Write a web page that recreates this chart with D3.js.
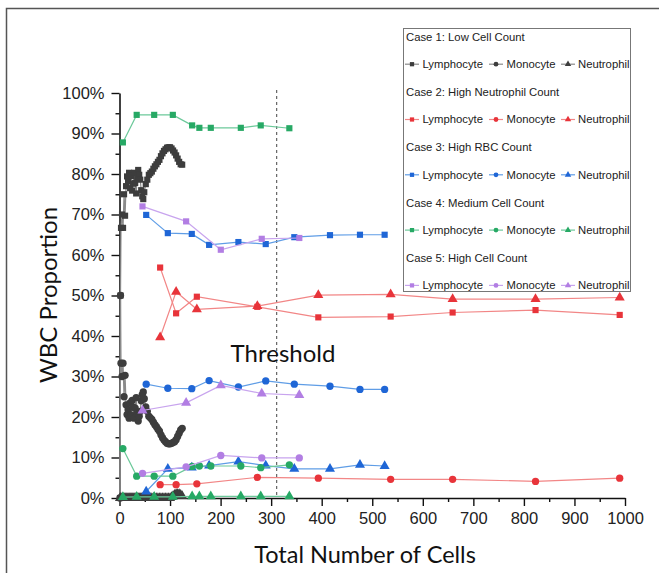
<!DOCTYPE html>
<html><head><meta charset="utf-8">
<script src="https://cdn.jsdelivr.net/npm/d3@7"></script>
<style>body{margin:0;background:#fff}</style>
</head><body><svg id="c" width="659" height="573"></svg>
<script>
// ---------------- data ----------------
const xTicks = [0,100,200,300,400,500,600,700,800,900,1000];
const yTicks = [0,10,20,30,40,50,60,70,80,90,100];
const thresholdX = 311;

const case1X   = [1,2,3,5,7,9,11,13,15,17,19,21,23,25,27,29,31,33,35,37,39,41,43,45,47,49,52,55,58,61,64,67,70,73,76,79,82,85,88,91,94,97,100,103,106,109,112,115,118,121,124];
const case1Lym = [0,50,66.7,70,66.7,75,69.7,77,79.4,78.2,80.3,76.5,79.5,75.9,77.6,80.3,77.8,75.2,79,81,79.8,78.6,76,74.5,73.8,75.5,77.5,78.6,79.8,80.2,80.6,81.3,81.9,82.4,83,83.5,84.4,85.1,85.7,86.1,86.5,86.6,86.6,86.3,85.8,85.3,84.6,83.8,83,82.4,82.3];
const case1Mon = [0,50,33.3,30,33.3,25,30.3,23,20.6,21.8,19.7,23.5,20.5,24.1,22.4,19.7,22.2,24.8,21,19,20.2,21.4,24,25.5,26.2,24.5,22.5,21.4,20.2,19.8,19.4,18.7,18.1,17.6,17,16.5,15.6,14.9,14.3,13.9,13.5,13.4,13.4,13.5,13.7,13.9,14.4,15.2,16,16.8,17.2];
const case1Neu = [0,0,0,0,0,0,0,0,0,0,0,0,0,0,0,0,0,0,0,0,0,0,0,0,0,0,0,0,0,0,0,0,0,0,0,0,0,0,0,0,0,0,0,0.2,0.5,0.8,1.0,1.0,1.0,0.8,0.5];

const case2X   = [80.4,112,153,272.7,393.3,536.4,659,823,989.5];
const case2Lym = [56.9,45.6,49.7,47.2,44.6,44.8,45.8,46.4,45.2];
const case2Mon = [3.3,3.3,3.5,5.1,4.9,4.6,4.6,4.1,4.9];
const case2Neu = [39.7,50.9,46.6,47.4,50.1,50.3,49.1,49.1,49.5];

const case3X   = [52.8,95.6,143,177.3,235.2,289.3,345.8,416.4,475.7,524.5];
const case3Lym = [69.9,65.4,65.2,62.5,63.2,62.7,64.4,64.9,65.0,65.0];
const case3Mon = [28.1,27.1,27.0,29.0,27.4,28.9,28.1,27.6,26.8,26.8];
const case3Neu = [1.6,7.2,7.5,8.0,9.0,8.0,7.2,7.2,8.2,7.9];

const case4X   = [6.7,34,68.6,105.5,143.7,158,180.6,240,279.4,336];
const case4Lym = [87.8,94.6,94.6,94.6,92.0,91.4,91.4,91.4,92.0,91.3];
const case4Mon = [12.2,5.4,5.4,5.4,7.8,7.9,7.9,7.9,7.5,8.2];
const case4Neu = [0.2,0.3,0.3,0.3,0.4,0.4,0.4,0.4,0.4,0.4];

const case5X   = [45.5,131.8,200.4,281.4,355.7];
const case5Lym = [72.0,68.3,61.3,64.0,64.2];
const case5Mon = [6.1,7.7,10.5,9.9,9.9];
const case5Neu = [21.6,23.5,27.8,25.8,25.4];

const caseNames = ["Case 1: Low Cell Count","Case 2: High Neutrophil Count","Case 3: High RBC Count","Case 4: Medium Cell Count","Case 5: High Cell Count"];
const cellTypes = ["Lymphocyte","Monocyte","Neutrophil"];

// ---------------- styles ----------------
const markColors = ["#3d3d3d","#e8343a","#1f66d6","#27a965","#b27ee3"];
const lineColors = ["#8a8a8a","#f28686","#5f9de6","#6cc99a","#c8a4ee"];
const shapes = [d3.symbolSquare, d3.symbolCircle, d3.symbolTriangle];
const shapeSize = [38, 42, 44];

const cases = [
  {x: case1X, s: [case1Lym, case1Mon, case1Neu]},
  {x: case2X, s: [case2Lym, case2Mon, case2Neu]},
  {x: case3X, s: [case3Lym, case3Mon, case3Neu]},
  {x: case4X, s: [case4Lym, case4Mon, case4Neu]},
  {x: case5X, s: [case5Lym, case5Mon, case5Neu]}
];

const svg = d3.select("#c");
svg.append("rect").attr("width",659).attr("height",573).attr("fill","#fff");
// outer frame
svg.append("path").attr("d","M6.5,573V8.5H659").attr("fill","none").attr("stroke","#555").attr("stroke-width",1.5);

const x = d3.scaleLinear().domain([0,1000]).range([119.5,625]);
const y = d3.scaleLinear().domain([0,100]).range([498,93]);

// threshold
svg.append("line").attr("x1",x(thresholdX)).attr("x2",x(thresholdX)).attr("y1",90).attr("y2",498)
  .attr("stroke","#444").attr("stroke-width",1).attr("stroke-dasharray","3,3");

// axes
const minorX = d3.range(50,1000,100);
const minorY = d3.range(5,100,10);
svg.append("g").attr("transform",`translate(0,${y(0)})`)
  .call(d3.axisBottom(x).tickValues(xTicks).tickSize(8).tickSizeOuter(0).tickPadding(6).tickFormat(d3.format("d")));
svg.append("g").attr("transform",`translate(0,${y(0)})`)
  .call(d3.axisBottom(x).tickValues(minorX).tickSize(4).tickFormat("")).select(".domain").remove();
svg.append("g").attr("transform",`translate(${x(0)},0)`)
  .call(d3.axisLeft(y).tickValues(yTicks).tickSize(8).tickSizeOuter(0).tickPadding(7).tickFormat(d=>d+"%"));
svg.append("g").attr("transform",`translate(${x(0)},0)`)
  .call(d3.axisLeft(y).tickValues(minorY).tickSize(4).tickFormat("")).select(".domain").remove();
svg.selectAll(".domain").attr("stroke","#111").attr("stroke-width",1.6);
svg.selectAll(".tick line").attr("stroke","#111").attr("stroke-width",1.4);
svg.selectAll(".tick text").attr("font-family","'Liberation Sans', Arial, sans-serif").attr("font-size",16.5).attr("fill","#222");

// series
const line = d3.line();
cases.forEach((c,ci)=>{
  c.s.forEach((vals,ti)=>{
    const pts = c.x.map((xv,i)=>[x(xv), y(vals[i])]);
    svg.append("path").attr("d",line(pts)).attr("fill","none")
      .attr("stroke",lineColors[ci]).attr("stroke-width",1.2);
    svg.append("g").selectAll("path").data(pts).join("path")
      .attr("transform",d=>`translate(${d[0]},${d[1]})`)
      .attr("d",d3.symbol().type(shapes[ti]).size(shapeSize[ti]))
      .attr("fill",markColors[ci]);
  });
});

// texts
svg.append("text").attr("x",283).attr("y",362).attr("text-anchor","middle")
  .attr("font-family","Lato, sans-serif").attr("font-size",24).attr("fill","#111").text("Threshold");
svg.append("text").attr("x",365).attr("y",563).attr("text-anchor","middle")
  .attr("font-family","Lato, sans-serif").attr("font-size",23.5).attr("fill","#111").text("Total Number of Cells");
svg.append("text").attr("transform","translate(57,295) rotate(-90)").attr("text-anchor","middle")
  .attr("font-family","Lato, sans-serif").attr("font-size",24).attr("fill","#111").text("WBC Proportion");

// legend
const lg = svg.append("g");
lg.append("rect").attr("x",403.5).attr("y",28.5).attr("width",227).attr("height",263)
  .attr("fill","#fff").attr("stroke","#777").attr("stroke-width",1);
const legFont = "'Liberation Sans', Arial, sans-serif";
const symX = [405,489,561], txtX = [422.5,506.5,578];
caseNames.forEach((nm,ci)=>{
  const ty = 36.7 + ci*55.3;
  lg.append("text").attr("x",406).attr("y",ty).attr("dy","0.35em")
    .attr("font-family",legFont).attr("font-size",11.3).attr("fill","#222").text(nm);
  const ry = ty + 27.5;
  cellTypes.forEach((t,ti)=>{
    lg.append("line").attr("x1",symX[ti]).attr("x2",symX[ti]+14).attr("y1",ry).attr("y2",ry)
      .attr("stroke",lineColors[ci]).attr("stroke-width",1.2);
    lg.append("path").attr("transform",`translate(${symX[ti]+7},${ry})`)
      .attr("d",d3.symbol().type(shapes[ti]).size(18)).attr("fill",markColors[ci]);
    lg.append("text").attr("x",txtX[ti]).attr("y",ry).attr("dy","0.35em")
      .attr("font-family",legFont).attr("font-size",11.3).attr("fill","#222").text(t);
  });
});
</script></body></html>
